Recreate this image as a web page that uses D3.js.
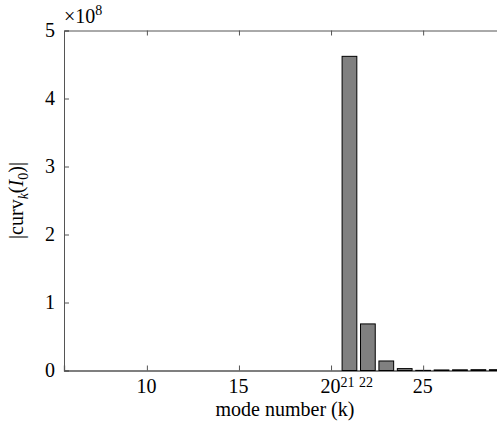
<!DOCTYPE html>
<html>
<head>
<meta charset="utf-8">
<script src="https://cdn.jsdelivr.net/npm/d3@7"></script>
<style>
html,body{margin:0;padding:0;background:#fff;}
svg text{font-family:"Liberation Serif","DejaVu Serif","Times New Roman",Times,serif !important;}
</style>
</head>
<body>
<svg id="chart" width="497" height="427"></svg>
<script>
// mode numbers k
const modes = [6,7,8,9,10,11,12,13,14,15,16,17,18,19,20,21,22,23,24,25,26,27,28,29];
// |curv_k(I_0)| in units of 1e8
const values = [0,0,0,0,0,0,0,0,0,0,0,0,0,0,0,4.62,0.685,0.14,0.028,0.002,0.008,0.01,0.012,0.012];
const xTicks = [10,15,20,25];
const yTicks = [0,1,2,3,4,5];
const extraLabels = [21,22];

const svg = d3.select("#chart");
const x = d3.scaleLinear().domain([5.5, 29.5]).range([64, 506]);
const y = d3.scaleLinear().domain([0, 5]).range([370.5, 30.5]);
const axisColor = "#555";
const barW = 0.8;
const fs = 20;

// bars
svg.append("g").selectAll("rect")
  .data(modes.map((m,i)=>({m, v: values[i]})).filter(d=>d.v>0))
  .join("rect")
  .attr("x", d => x(d.m - barW/2))
  .attr("width", d => x(d.m + barW/2) - x(d.m - barW/2))
  .attr("y", d => y(d.v))
  .attr("height", d => y(0) - y(d.v))
  .attr("fill", "#808080")
  .attr("stroke", "#000")
  .attr("stroke-width", 1);

// bottom axis
const xb = svg.append("g").attr("transform", `translate(0,${y(0)})`)
  .call(d3.axisBottom(x).tickValues(xTicks).tickSize(-5).tickPadding(8).tickFormat(d3.format("d")));
xb.select(".domain").attr("stroke", "#000").attr("stroke-width", 1.2);
xb.selectAll(".tick line").attr("stroke", axisColor);
xb.selectAll(".tick text").attr("font-size", fs).attr("fill", "#000").attr("dx", -1);

// top axis
const xt = svg.append("g").attr("transform", `translate(0,${y(5)})`)
  .call(d3.axisTop(x).tickValues(xTicks).tickSize(-5).tickFormat(""));
xt.select(".domain").attr("stroke", axisColor);
xt.selectAll(".tick line").attr("stroke", axisColor);

// left axis
const yl = svg.append("g").attr("transform", `translate(${x(5.5)},0)`)
  .call(d3.axisLeft(y).tickValues(yTicks).tickSize(-5).tickPadding(9).tickFormat(d3.format("d")));
yl.select(".domain").attr("stroke", axisColor);
yl.selectAll(".tick line").attr("stroke", axisColor);
yl.selectAll(".tick text").attr("font-size", fs).attr("fill", "#000");

// extra small labels 21, 22
svg.append("g").selectAll("text").data(extraLabels).join("text")
  .attr("x", d => x(d) - 2)
  .attr("y", 387)
  .attr("text-anchor", "middle")
  .attr("font-size", 14)
  .text(d => d);

// exponent
const ex = svg.append("text").attr("x", 64).attr("y", 23).attr("font-size", fs);
ex.append("tspan").text("\u00d710");
ex.append("tspan").attr("font-size", 14).attr("dy", -8).text("8");

// x label
svg.append("text").attr("x", 285).attr("y", 416).attr("text-anchor", "middle")
  .attr("font-size", fs).text("mode number (k)");

// y label
const yt = svg.append("text")
  .attr("transform", `translate(23,${(y(0)+y(5))/2}) rotate(-90)`)
  .attr("text-anchor", "middle").attr("font-size", fs);
yt.append("tspan").text("|curv");
yt.append("tspan").attr("font-style", "italic").attr("font-size", 14).attr("dy", 5).text("k");
yt.append("tspan").attr("dy", -5).text("(");
yt.append("tspan").attr("font-style", "italic").text("I");
yt.append("tspan").attr("font-size", 14).attr("dy", 5).text("0");
yt.append("tspan").attr("dy", -5).text(")|");
</script>
</body>
</html>
